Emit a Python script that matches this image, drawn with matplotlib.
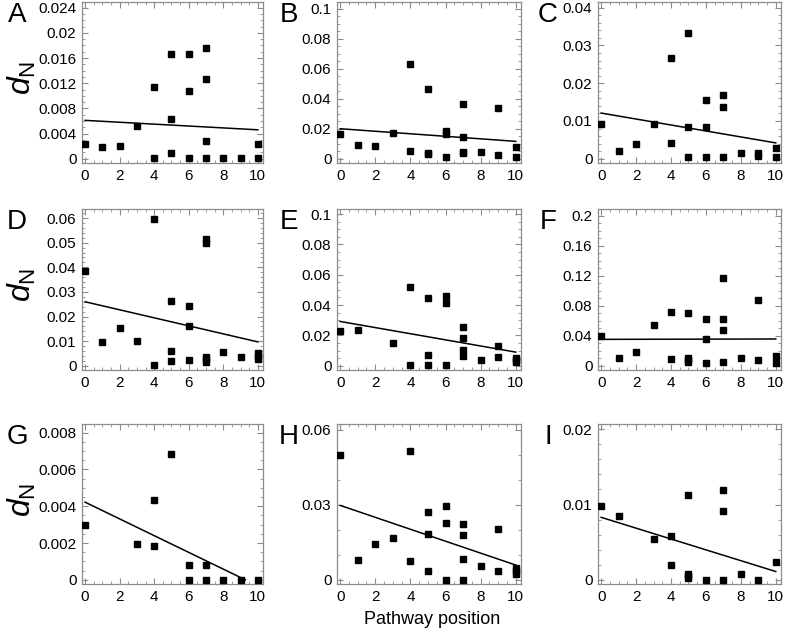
import matplotlib
matplotlib.use("Agg")
import matplotlib.pyplot as plt
from matplotlib.ticker import AutoMinorLocator, FuncFormatter
import numpy as np

plt.rcParams['font.family'] = ['Liberation Sans', 'DejaVu Sans']
plt.rcParams['mathtext.fontset'] = 'custom'
plt.rcParams['mathtext.it'] = 'Liberation Sans:italic'
plt.rcParams['mathtext.rm'] = 'Liberation Sans'

# ---------------- data ----------------
panel_letters = ['A', 'B', 'C', 'D', 'E', 'F', 'G', 'H', 'I']

a_x = [0, 1, 2, 3, 4, 4, 5, 5, 5, 6, 6, 6, 7, 7, 7, 7, 8, 9, 10, 10]
a_y = [0.0023, 0.0018, 0.0021, 0.0052, 0.0114, 0.0002, 0.0167, 0.0063, 0.0009,
       0.0166, 0.0107, 0.0002, 0.0176, 0.0127, 0.0029, 0.0002, 0.0002, 0.0002,
       0.0002, 0.0023]

b_x = [0, 1, 2, 3, 4, 4, 5, 5, 5, 6, 6, 6, 7, 7, 7, 7, 8, 9, 9, 10, 10]
b_y = [0.0167, 0.0090, 0.0084, 0.0171, 0.0633, 0.0050, 0.0462, 0.0040, 0.0030,
       0.0182, 0.0165, 0.0013, 0.0363, 0.0147, 0.0046, 0.0037, 0.0048, 0.0336,
       0.0024, 0.0079, 0.0013]

c_x = [0, 1, 2, 3, 4, 4, 5, 5, 5, 6, 6, 6, 7, 7, 7, 8, 9, 9, 10, 10]
c_y = [0.0093, 0.0020, 0.0039, 0.0091, 0.0266, 0.0042, 0.0334, 0.0085, 0.0005,
       0.0156, 0.0084, 0.0005, 0.0168, 0.0136, 0.0005, 0.0014, 0.0014, 0.0007,
       0.0028, 0.0005]

d_x = [0, 1, 2, 3, 4, 4, 5, 5, 5, 6, 6, 6, 7, 7, 7, 7, 7, 8, 9, 10, 10, 10]
d_y = [0.0385, 0.0095, 0.0153, 0.0099, 0.0595, 0.0005, 0.0262, 0.0062, 0.0021,
       0.0244, 0.0162, 0.0024, 0.0514, 0.0498, 0.0035, 0.0026, 0.0017, 0.0054,
       0.0036, 0.0051, 0.0039, 0.0028]

e_x = [0, 1, 3, 4, 4, 5, 5, 5, 6, 6, 6, 7, 7, 7, 7, 8, 9, 9, 10, 10, 10]
e_y = [0.0229, 0.0233, 0.0147, 0.0516, 0.0004, 0.0444, 0.0070, 0.0004, 0.0457,
       0.0415, 0.0004, 0.0257, 0.0180, 0.0103, 0.0064, 0.0037, 0.0130, 0.0055,
       0.0050, 0.0037, 0.0026]

f_x = [0, 1, 2, 3, 4, 4, 5, 5, 5, 5, 6, 6, 6, 7, 7, 7, 7, 8, 9, 9, 10, 10]
f_y = [0.0392, 0.0110, 0.0180, 0.0550, 0.0722, 0.0088, 0.0709, 0.0106, 0.0075,
       0.0044, 0.0630, 0.0357, 0.0040, 0.1167, 0.0630, 0.0471, 0.0048, 0.0106,
       0.0880, 0.0075, 0.0128, 0.0040]

g_x = [0, 3, 4, 4, 5, 6, 6, 7, 7, 8, 9, 10]
g_y = [0.0030, 0.00197, 0.00434, 0.00186, 0.00682, 0.00081, 0.0, 0.00081, 0.0,
       0.0, 0.0, 0.0]

h_x = [0, 1, 2, 3, 4, 4, 5, 5, 5, 6, 6, 6, 7, 7, 7, 7, 8, 9, 9, 10, 10, 10]
h_y = [0.0500, 0.0081, 0.0142, 0.0168, 0.0515, 0.0074, 0.0270, 0.0185, 0.0035,
       0.0297, 0.0226, 0.0001, 0.0223, 0.0180, 0.0084, 0.0001, 0.0057, 0.0205,
       0.0037, 0.0048, 0.0037, 0.0025]

i_x = [0, 1, 3, 4, 4, 5, 5, 5, 5, 6, 7, 7, 7, 8, 9, 10]
i_y = [0.0098, 0.0085, 0.0054, 0.0058, 0.0019, 0.0113, 0.0008, 0.0005, 0.0002,
       0.0, 0.0119, 0.0092, 0.0, 0.0008, 0.0, 0.0023]

# fitted regression lines (intercept, slope)
fit_intercepts = [0.0061, 0.0200, 0.0121, 0.0260, 0.0292, 0.0352, 0.00422, 0.0298, 0.0083]
fit_slopes = [-0.00015, -0.00084, -0.00079, -0.00163, -0.00202, 0.00005, -0.000455, -0.00239, -0.00072]

y_tick_steps = [0.004, 0.02, 0.01, 0.01, 0.02, 0.04, 0.002, 0.03, 0.01]
y_tick_max = [0.024, 0.1, 0.04, 0.06, 0.1, 0.2, 0.008, 0.06, 0.02]
y_top = [0.0249, 0.1044, 0.0415, 0.0637, 0.1033, 0.209, 0.00847, 0.0624, 0.0207]
y_minor = [4, 4, 5, 5, 4, 4, 4, 3, 5]

x_ticks = [0, 2, 4, 6, 8, 10]

xs = [a_x, b_x, c_x, d_x, e_x, f_x, g_x, h_x, i_x]
ys = [a_y, b_y, c_y, d_y, e_y, f_y, g_y, h_y, i_y]

# ---------------- layout (pixels) ----------------
W, H = 785, 641
fig = plt.figure(figsize=(W / 100, H / 100), dpi=100)

col_left = [82, 337, 598]
col_width = [181, 184, 183]
row_top = [2, 209, 424]
row_bot = [163, 370, 584]
letter_x = [17, 289, 548]

frame_col = '#8c8c8c'

def fmt(v, pos):
    s = ('%.4f' % v).rstrip('0').rstrip('.')
    return s

for k in range(9):
    r, c = divmod(k, 3)
    l = col_left[c]
    t = row_top[r]
    b = row_bot[r]
    ax = fig.add_axes([l / W, (H - b) / H, col_width[c] / W, (b - t) / H])
    ax.plot(xs[k], ys[k], linestyle='none', marker='s', markersize=4.7,
            color='black', zorder=3)
    b0 = fit_intercepts[k]
    m = fit_slopes[k]
    x_end = 10.0
    if m < 0 and b0 + m * 10 < 0:
        x_end = -b0 / m
    lx = np.array([0.0, x_end])
    ax.plot(lx, b0 + m * lx, color='black', linewidth=1.1, zorder=2)

    top = y_top[k]
    ax.set_ylim(-0.027 * top, top)
    ax.set_xlim(-0.18, 10.3)
    ax.set_xticks(x_ticks)
    ax.xaxis.set_minor_locator(AutoMinorLocator(4))
    ax.set_yticks(np.arange(0, y_tick_max[k] + 1e-9, y_tick_steps[k]))
    ax.yaxis.set_minor_locator(AutoMinorLocator(y_minor[k]))
    ax.yaxis.set_major_formatter(FuncFormatter(fmt))
    ax.tick_params(which='both', direction='in', top=True, right=True,
                   color=frame_col, labelsize=11, labelcolor='black')
    ax.tick_params(which='major', length=4, width=0.8, pad=4)
    ax.tick_params(which='minor', length=2, width=0.6)
    for sp in ax.spines.values():
        sp.set_color(frame_col)
        sp.set_linewidth(0.9)

    fig.text(letter_x[c] / W, (H - (t + 13)) / H, panel_letters[k],
             fontsize=20, ha='center', va='center')
    if c == 0:
        fig.text(22 / W, (H - (t + 76)) / H, r'$d_{\mathrm{N}}$',
                 fontsize=23, rotation=90, ha='center', va='center')

fig.text(432 / W, (H - 619) / H, 'Pathway position', fontsize=13,
         ha='center', va='center')

fig.savefig('out.png', dpi=100)
